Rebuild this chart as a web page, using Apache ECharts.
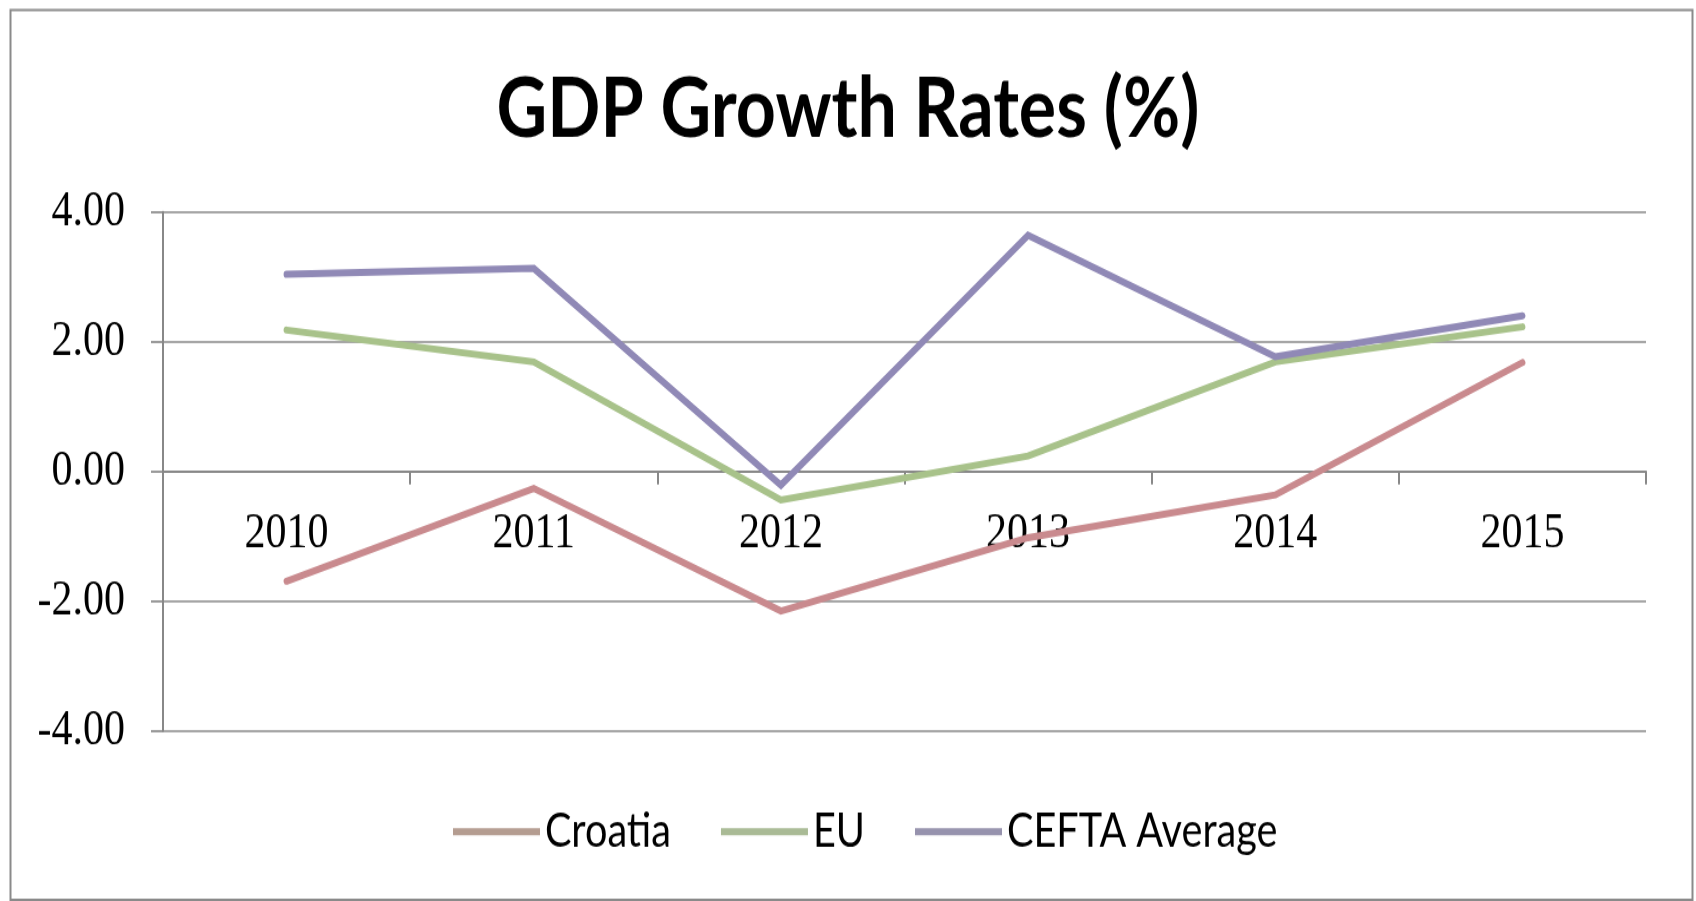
<!DOCTYPE html>
<html>
<head>
<meta charset="utf-8">
<title>GDP Growth Rates (%)</title>
<script src="https://cdn.jsdelivr.net/npm/echarts@6/dist/echarts.min.js"></script>
<style>
  html, body { margin: 0; padding: 0; background: #ffffff; width: 1696px; height: 901px; overflow: hidden; }
  #page { position: relative; width: 1696px; height: 901px; overflow: hidden; background: #ffffff; }
  /* The chart is laid out in a shorter box and stretched vertically,
     which gives the tall, narrow lettering of the original figure. */
  #chart { position: absolute; left: 0; top: 0; width: 1696px; height: 764px; transform-origin: 0 0; }
</style>
</head>
<body>
<div id="page"><div id="chart"></div></div>
<script>
// Years on the category axis
const years = ['2010', '2011', '2012', '2013', '2014', '2015'];

// Annual GDP growth, percent
const croatia = [-1.69, -0.26, -2.15, -1.02, -0.36, 1.68];
const eu      = [2.18, 1.69, -0.44, 0.24, 1.69, 2.23];
const cefta   = [3.04, 3.13, -0.21, 3.64, 1.77, 2.40];

// Value-axis ticks
const yTicks = [-4, -2, 0, 2, 4];

const seriesNames = ['Croatia', 'EU', 'CEFTA Average'];
const lineColors = ['#c98a8e', '#a8c28a', '#9089b6'];
const legendColors = ['#b49c90', '#a9ba95', '#9692ad'];

const PAGE_H = 901;
const BOX_H = 764;
const stretch = PAGE_H / BOX_H;       // vertical stretch applied with CSS
const ys = v => v / stretch;          // page y -> chart y

const sans = 'Lato, "Liberation Sans", sans-serif';
const serif = '"Liberation Serif", "DejaVu Serif", serif';
const axisGray = '#888888';

// Font size that makes `text` span `width` pixels
function fitSize(text, family, weight, width) {
  const ctx = document.createElement('canvas').getContext('2d');
  ctx.font = weight + ' 100px ' + family;
  return 100 * width / ctx.measureText(text).width;
}

const el = document.getElementById('chart');
el.style.transform = 'scaleY(' + stretch + ')';

const titleSize = fitSize('GDP Growth Rates (%)', sans, 'bold', 703);
const legendSize = fitSize('Croatia', sans, 'normal', 126);
const tickSize = 42;

const gridTop = ys(212);
const gridBottomY = ys(731);

const chart = echarts.init(el, null, { renderer: 'canvas', width: 1696, height: BOX_H });

const makeLine = (name, data, i) => ({
  name: name,
  type: 'line',
  data: data,
  symbol: 'none',
  smooth: false,
  z: 3 + i,
  lineStyle: { color: lineColors[i], width: 6, cap: 'round', join: 'miter' },
  itemStyle: { color: lineColors[i] }
});

chart.setOption({
  backgroundColor: '#ffffff',
  animation: false,
  title: {
    text: 'GDP Growth Rates (%)',
    left: 'center',
    top: ys(104) - 0.49 * titleSize,
    textStyle: { fontFamily: sans, fontWeight: 'bold', fontSize: titleSize, color: '#000000' }
  },
  legend: {
    left: 448,
    top: ys(828) - 0.5 * legendSize - 2,
    icon: 'rect',
    itemWidth: 87,
    itemHeight: 6,
    itemGap: 50,
    textStyle: { fontFamily: sans, fontSize: legendSize, color: '#000000' },
    data: seriesNames.map((n, i) => ({ name: n, itemStyle: { color: legendColors[i] } }))
  },
  grid: { left: 163, right: 50, top: gridTop, bottom: BOX_H - gridBottomY, containLabel: false },
  xAxis: {
    type: 'category',
    data: years,
    boundaryGap: true,
    axisLine: { onZero: true, lineStyle: { color: axisGray, width: 2 } },
    axisTick: { show: true, length: 11, alignWithLabel: false, lineStyle: { color: axisGray, width: 2 } },
    // labels sit just under the zero line
    axisLabel: { margin: Math.round(ys(534) - gridBottomY - tickSize / 2), fontFamily: serif, fontSize: tickSize, color: '#000000' },
    splitLine: { show: false }
  },
  yAxis: {
    type: 'value',
    min: yTicks[0],
    max: yTicks[yTicks.length - 1],
    interval: yTicks[1] - yTicks[0],
    axisLine: { show: true, lineStyle: { color: axisGray, width: 2 } },
    axisTick: { show: true, length: 12, lineStyle: { color: axisGray, width: 1.7 } },
    axisLabel: {
      margin: 38,
      fontFamily: serif,
      fontSize: tickSize,
      color: '#000000',
      formatter: v => v.toFixed(2)
    },
    splitLine: { show: true, lineStyle: { color: axisGray, width: 1.7 } }
  },
  graphic: [{
    type: 'rect',
    left: 8,
    top: ys(7),
    shape: { width: 1682, height: ys(890) },
    style: { fill: 'none', stroke: '#8a8a8a', lineWidth: 2 },
    silent: true,
    z: -1
  }],
  series: [
    makeLine(seriesNames[0], croatia, 0),
    makeLine(seriesNames[1], eu, 1),
    makeLine(seriesNames[2], cefta, 2)
  ]
});
</script>
</body>
</html>
